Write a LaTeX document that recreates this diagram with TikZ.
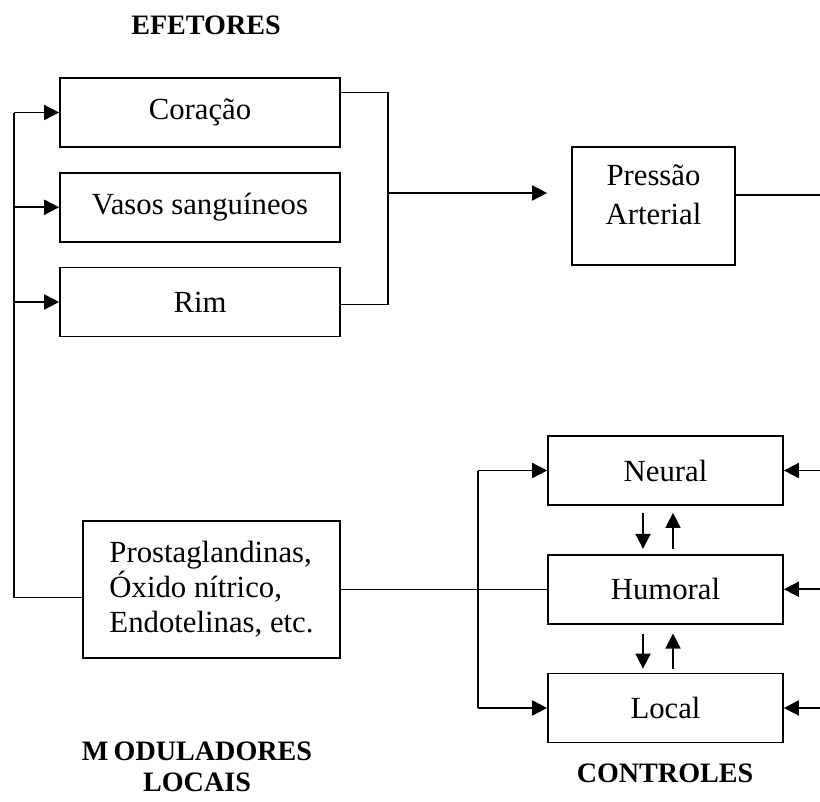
\documentclass[tikz,border=0pt]{standalone}
\usepackage{fontspec}
\setmainfont{Liberation Serif}
\usetikzlibrary{arrows.meta, positioning, calc}

\begin{document}
\begin{tikzpicture}[x=0.02cm, y=-0.02cm, line width=1pt,
    caixa/.style={draw, rectangle, line width=1pt, minimum height=1.38cm, font=\fontsize{17.5}{22}\selectfont},
    titulo/.style={font=\fontsize{16}{17.6}\selectfont\bfseries, align=center},
    seta/.style={-{Triangle[length=0.3cm, width=0.3cm]}}]
        \useasboundingbox (0,0) rectangle (820,801);

        % efetores
        \node[caixa, minimum width=5.6cm] (coracao) at (200,112.5) {Coração};
        \node[caixa, minimum width=5.6cm, below=0.48cm of coracao] (vasos) {Vasos sanguíneos};
        \node[caixa, minimum width=5.6cm, below=0.48cm of vasos] (rim) {Rim};
        \node[caixa, minimum width=3.26cm, minimum height=2.36cm, align=center, text depth=0.45cm] (pressao) at (653.5,206) {Pressão\\Arterial};

        % moduladores e controles
        \node[caixa, minimum width=5.14cm, minimum height=2.74cm, align=left, font=\fontsize{17.5}{20}\selectfont] (moduladores) at (211.5,589.5) {Prostaglandinas,\\Óxido nítrico,\\Endotelinas, etc.};
        \node[caixa, minimum width=4.7cm] (neural) at (665.5,470.5) {Neural};
        \node[caixa, minimum width=4.7cm, below=0.96cm of neural] (humoral) {Humoral};
        \node[caixa, minimum width=4.7cm, below=0.96cm of humoral] (local) {Local};

        \node[titulo] (tefetores) at (206,25) {EFETORES};
        \node[titulo] (tmoduladores) at (197,767) {M\kern3pt ODULADORES\\LOCAIS};
        \node[titulo] (tcontroles) at (665,773) {CONTROLES};

        \coordinate (busE) at (14,0);
        \coordinate (juncao) at (388,193);
        \coordinate (busC) at (478,0);
        \coordinate (borda) at (820,0);

        % barramento da esquerda
        \draw ([yshift=-0.16cm]moduladores.west) -| (busE |- coracao.west);
        \draw[seta] (busE |- coracao.west) -- (coracao.west);
        \draw[seta] (busE |- vasos.west) -- (vasos.west);
        \draw[seta] (busE |- rim.west) -- (rim.west);

        % efetores -> pressao
        \draw ([yshift=0.4cm]coracao.east) -| (juncao) |- ([yshift=-0.05cm]rim.east);
        \draw[seta, shorten >=0.48cm] (juncao) -- (juncao -| pressao.west);
        \draw ([yshift=0.22cm]pressao.east) -- ([yshift=0.22cm]pressao.east -| borda);

        % moduladores -> controles
        \draw (moduladores.east) -- (moduladores.east -| humoral.west);
        \draw (busC |- neural.west) -- (busC |- local.west);
        \draw[seta] (busC |- neural.west) -- (neural.west);
        \draw[seta] (busC |- local.west) -- (local.west);

        % entradas da direita
        \draw[seta] (neural.east -| borda) -- (neural.east);
        \draw[seta] (humoral.east -| borda) -- (humoral.east);
        \draw[seta] (local.east -| borda) -- (local.east);

        % interacoes entre controles
        \draw[seta] ([xshift=-0.45cm, yshift=-0.14cm]neural.south) -- ([xshift=-0.45cm, yshift=0.1cm]humoral.north);
        \draw[seta] ([xshift=0.15cm, yshift=0.1cm]humoral.north) -- ([xshift=0.15cm, yshift=-0.14cm]neural.south);
        \draw[seta] ([xshift=-0.45cm, yshift=-0.18cm]humoral.south) -- ([xshift=-0.45cm, yshift=0.08cm]local.north);
        \draw[seta] ([xshift=0.15cm, yshift=0.08cm]local.north) -- ([xshift=0.15cm, yshift=-0.18cm]humoral.south);
\end{tikzpicture}
\end{document}
